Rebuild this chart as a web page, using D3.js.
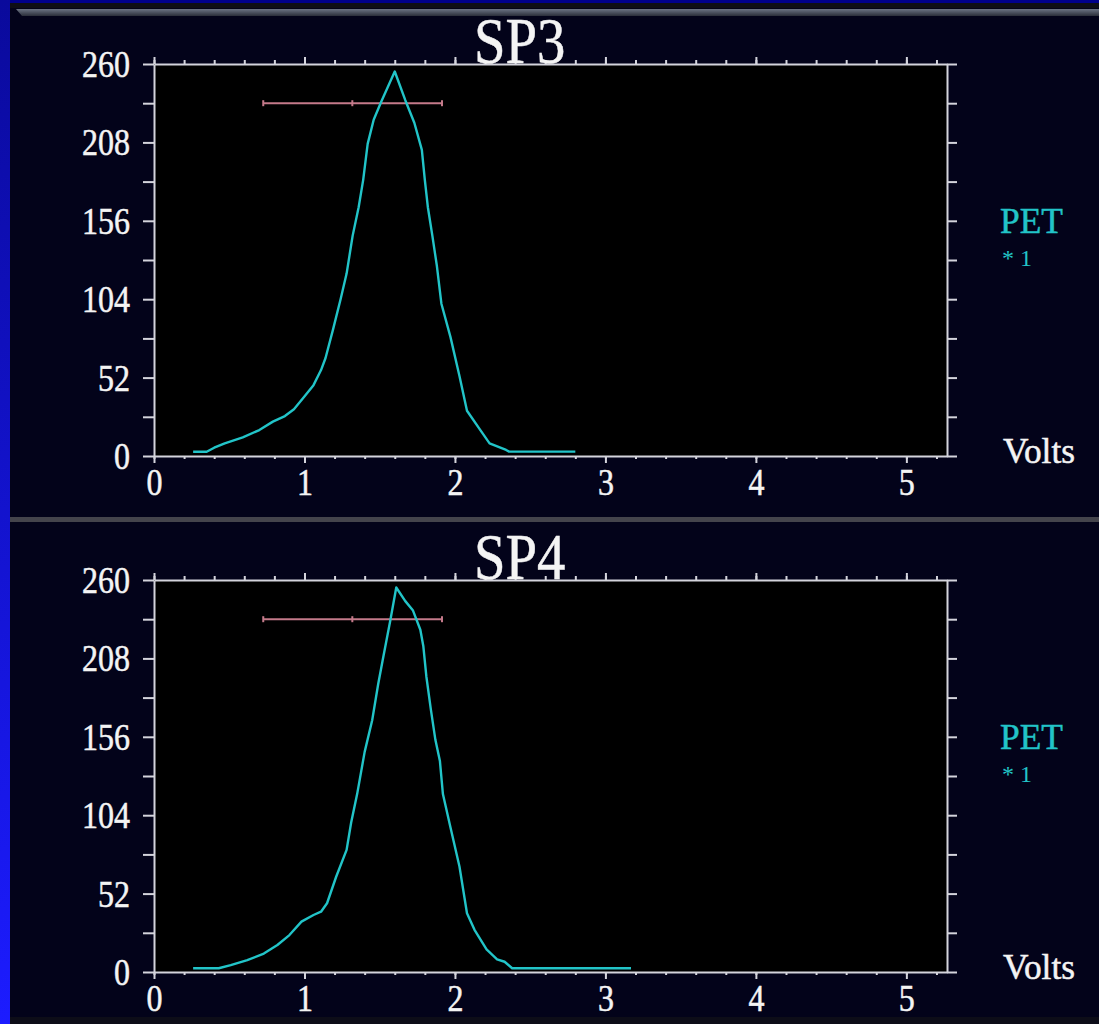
<!DOCTYPE html>
<html>
<head>
<meta charset="utf-8">
<script src="https://cdn.jsdelivr.net/npm/d3@7"></script>
<style>
  html, body { margin: 0; padding: 0; background: #000080; }
  svg { display: block; }
</style>
</head>
<body>
<svg id="chart" width="1099" height="1024"></svg>
<script>
// Pulse-height spectra: counts versus volts for two detector channels
const panelTitles = ["SP3", "SP4"];

const sp3Volts = [0.26, 0.35, 0.40, 0.47, 0.59, 0.70, 0.79, 0.87, 0.93, 0.99, 1.06, 1.11, 1.14, 1.19,
  1.24, 1.28, 1.32, 1.36, 1.39, 1.42, 1.46, 1.51, 1.60, 1.67, 1.73, 1.78, 1.80, 1.82, 1.85, 1.88,
  1.91, 1.97, 2.03, 2.08, 2.17, 2.23, 2.34, 2.36, 2.80];
const sp3Counts = [2.8, 2.8, 5.5, 8.4, 12.4, 17.2, 22.8, 26.5, 31, 38.3, 47, 57, 65, 84,
  104, 121, 146, 165, 183, 207, 223, 235, 255, 236, 221, 203, 183, 165, 146, 126,
  101, 79, 53, 30, 17, 8.4, 4, 2.9, 2.9];

const sp4Volts = [0.26, 0.43, 0.51, 0.62, 0.73, 0.82, 0.90, 0.98, 1.06, 1.11, 1.15, 1.21, 1.28, 1.31,
  1.35, 1.40, 1.45, 1.49, 1.52, 1.57, 1.61, 1.67, 1.72, 1.77, 1.79, 1.81, 1.84, 1.87, 1.90, 1.92,
  1.97, 2.03, 2.08, 2.13, 2.21, 2.28, 2.33, 2.38, 3.17];
const sp4Counts = [2.5, 2.5, 4.6, 7.9, 12.2, 17.9, 24.5, 33.4, 37.8, 40, 45.6, 63, 81, 99,
  118, 146, 167, 191, 207, 233, 255, 246, 240, 227, 216, 196, 174, 154, 140, 118,
  96, 70, 39, 28, 15, 8.4, 6.8, 2.5, 2.5];

// Horizontal marker bars: low end, centre, high end, level
const markerLow = [0.726, 0.726];
const markerMid = [1.318, 1.318];
const markerHigh = [1.914, 1.914];
const markerLevel = [234, 234];

const xMajorTicks = [0, 1, 2, 3, 4, 5];
const yTicks = [0, 26, 52, 78, 104, 130, 156, 182, 208, 234, 260];
const yLabelTicks = [0, 52, 104, 156, 208, 260];
const legendName = "PET";
const legendScale = "* 1";
const xUnit = "Volts";

const seriesVolts = [sp3Volts, sp4Volts];
const seriesCounts = [sp3Counts, sp4Counts];

const svg = d3.select("#chart");
const W = 1099, H = 1024;

// ---- slide background ----
const defs = svg.append("defs");
const edge = defs.append("linearGradient").attr("id", "edgeBlue")
  .attr("x1", 0).attr("y1", 0).attr("x2", 0).attr("y2", 1);
edge.append("stop").attr("offset", "0%").attr("stop-color", "#0a0a9c");
edge.append("stop").attr("offset", "100%").attr("stop-color", "#1c1cff");
const bevel = defs.append("linearGradient").attr("id", "bevel")
  .attr("x1", 0).attr("y1", 0).attr("x2", 0).attr("y2", 1);
bevel.append("stop").attr("offset", "0%").attr("stop-color", "#6c7484");
bevel.append("stop").attr("offset", "100%").attr("stop-color", "#2a2e3a");

svg.append("rect").attr("width", W).attr("height", H).attr("fill", "#00008c");
svg.append("rect").attr("x", 0).attr("y", 0).attr("width", 10).attr("height", H).attr("fill", "url(#edgeBlue)");
svg.append("rect").attr("x", 10).attr("y", 3).attr("width", W - 10).attr("height", H - 3).attr("fill", "#03031a");
svg.append("rect").attr("x", 10).attr("y", 3).attr("width", W - 10).attr("height", 5).attr("fill", "#0e0e16");
svg.append("polygon").attr("points", "16,9 1099,9 1099,16 22,16").attr("fill", "url(#bevel)");
svg.append("rect").attr("x", 10).attr("y", 517).attr("width", W - 10).attr("height", 5).attr("fill", "#44444c");
svg.append("rect").attr("x", 10).attr("y", 1017).attr("width", W - 10).attr("height", 7).attr("fill", "#0d0d18");

// ---- scales ----
const x = d3.scaleLinear().domain([0, 5.27]).range([154, 947]);
const y = d3.scaleLinear().domain([0, 260]).range([456, 64]);
const xMinor = d3.range(0, 5.21, 0.2).map(v => +v.toFixed(2));

const axisColor = "#d4d4dc";
const textColor = "#f4f4f4";
const cyan = "#22c4c8";
const serif = "'Liberation Serif', 'Times New Roman', serif";

// tall, slightly condensed serif lettering
function tallText(sel, size, widthPerChar, color) {
  sel.attr("font-family", serif).attr("font-size", size).attr("fill", color)
    .attr("stroke", color).attr("stroke-width", 0.5)
    .each(function () {
      const t = d3.select(this).text();
      if (t.length) d3.select(this).attr("textLength", t.length * widthPerChar).attr("lengthAdjust", "spacingAndGlyphs");
    });
}

function styleAxis(g) {
  g.selectAll("path.domain").attr("stroke", axisColor).attr("stroke-width", 2);
  g.selectAll(".tick line").attr("stroke", axisColor).attr("stroke-width", 2);
  g.selectAll(".tick text").call(tallText, 37, 16, textColor);
}

const panelOffset = [0, 516];

panelTitles.forEach((title, i) => {
  const g = svg.append("g").attr("transform", `translate(0,${panelOffset[i]})`);

  // plot field
  g.append("rect").attr("x", x(0)).attr("y", y(260))
    .attr("width", x(5.27) - x(0)).attr("height", y(0) - y(260)).attr("fill", "#000");

  // bottom axis: minor then major ticks with labels
  g.append("g").attr("transform", `translate(0,${y(0)})`)
    .call(d3.axisBottom(x).tickValues(xMinor).tickSize(3).tickSizeOuter(0).tickFormat(""))
    .call(styleAxis);
  g.append("g").attr("transform", `translate(0,${y(0)})`)
    .call(d3.axisBottom(x).tickValues(xMajorTicks).tickSize(7).tickSizeOuter(0).tickPadding(6).tickFormat(d3.format("d")))
    .call(styleAxis)
    .call(a => a.select("path.domain").remove());

  // top axis
  g.append("g").attr("transform", `translate(0,${y(260)})`)
    .call(d3.axisTop(x).tickValues(xMinor).tickSize(4).tickSizeOuter(0).tickFormat(""))
    .call(styleAxis);
  g.append("g").attr("transform", `translate(0,${y(260)})`)
    .call(d3.axisTop(x).tickValues(xMajorTicks).tickSize(7).tickSizeOuter(0).tickFormat(""))
    .call(styleAxis)
    .call(a => a.select("path.domain").remove());

  // left axis
  g.append("g").attr("transform", `translate(${x(0)},0)`)
    .call(d3.axisLeft(y).tickValues(yTicks).tickSize(11).tickSizeOuter(0).tickPadding(13)
      .tickFormat(d => yLabelTicks.includes(d) ? d : ""))
    .call(styleAxis)
    .call(a => a.selectAll(".tick text").attr("dy", "0.34em"));

  // right axis
  g.append("g").attr("transform", `translate(${x(5.27)},0)`)
    .call(d3.axisRight(y).tickValues(yTicks).tickSize(10).tickSizeOuter(0).tickFormat(""))
    .call(styleAxis);

  // title
  g.append("text").attr("x", 474).attr("y", 63).text(title)
    .call(tallText, 66, 30.5, textColor);

  // marker bar with end and centre caps
  const lvl = y(markerLevel[i]);
  const mk = g.append("g").attr("stroke", "#c47a8a").attr("stroke-width", 2);
  mk.append("line").attr("x1", x(markerLow[i])).attr("x2", x(markerHigh[i])).attr("y1", lvl).attr("y2", lvl);
  [markerLow[i], markerMid[i], markerHigh[i]].forEach(v => {
    mk.append("line").attr("x1", x(v)).attr("x2", x(v)).attr("y1", lvl - 3).attr("y2", lvl + 3);
  });

  // spectrum trace
  const pts = seriesVolts[i].map((v, k) => [v, seriesCounts[i][k]]);
  g.append("path").datum(pts)
    .attr("d", d3.line().x(d => x(d[0])).y(d => y(d[1])))
    .attr("fill", "none").attr("stroke", cyan).attr("stroke-width", 2.4).attr("stroke-linejoin", "round");

  // legend and unit
  g.append("text").attr("x", 1000).attr("y", 233).text(legendName)
    .call(tallText, 36, 21, cyan);
  g.append("text").attr("x", 1002).attr("y", 266).text(legendScale)
    .attr("font-family", serif).attr("font-size", 24).attr("fill", cyan);
  g.append("text").attr("x", 1003).attr("y", 463).text(xUnit)
    .call(tallText, 36, 14.4, textColor);
});
</script>
</body>
</html>
